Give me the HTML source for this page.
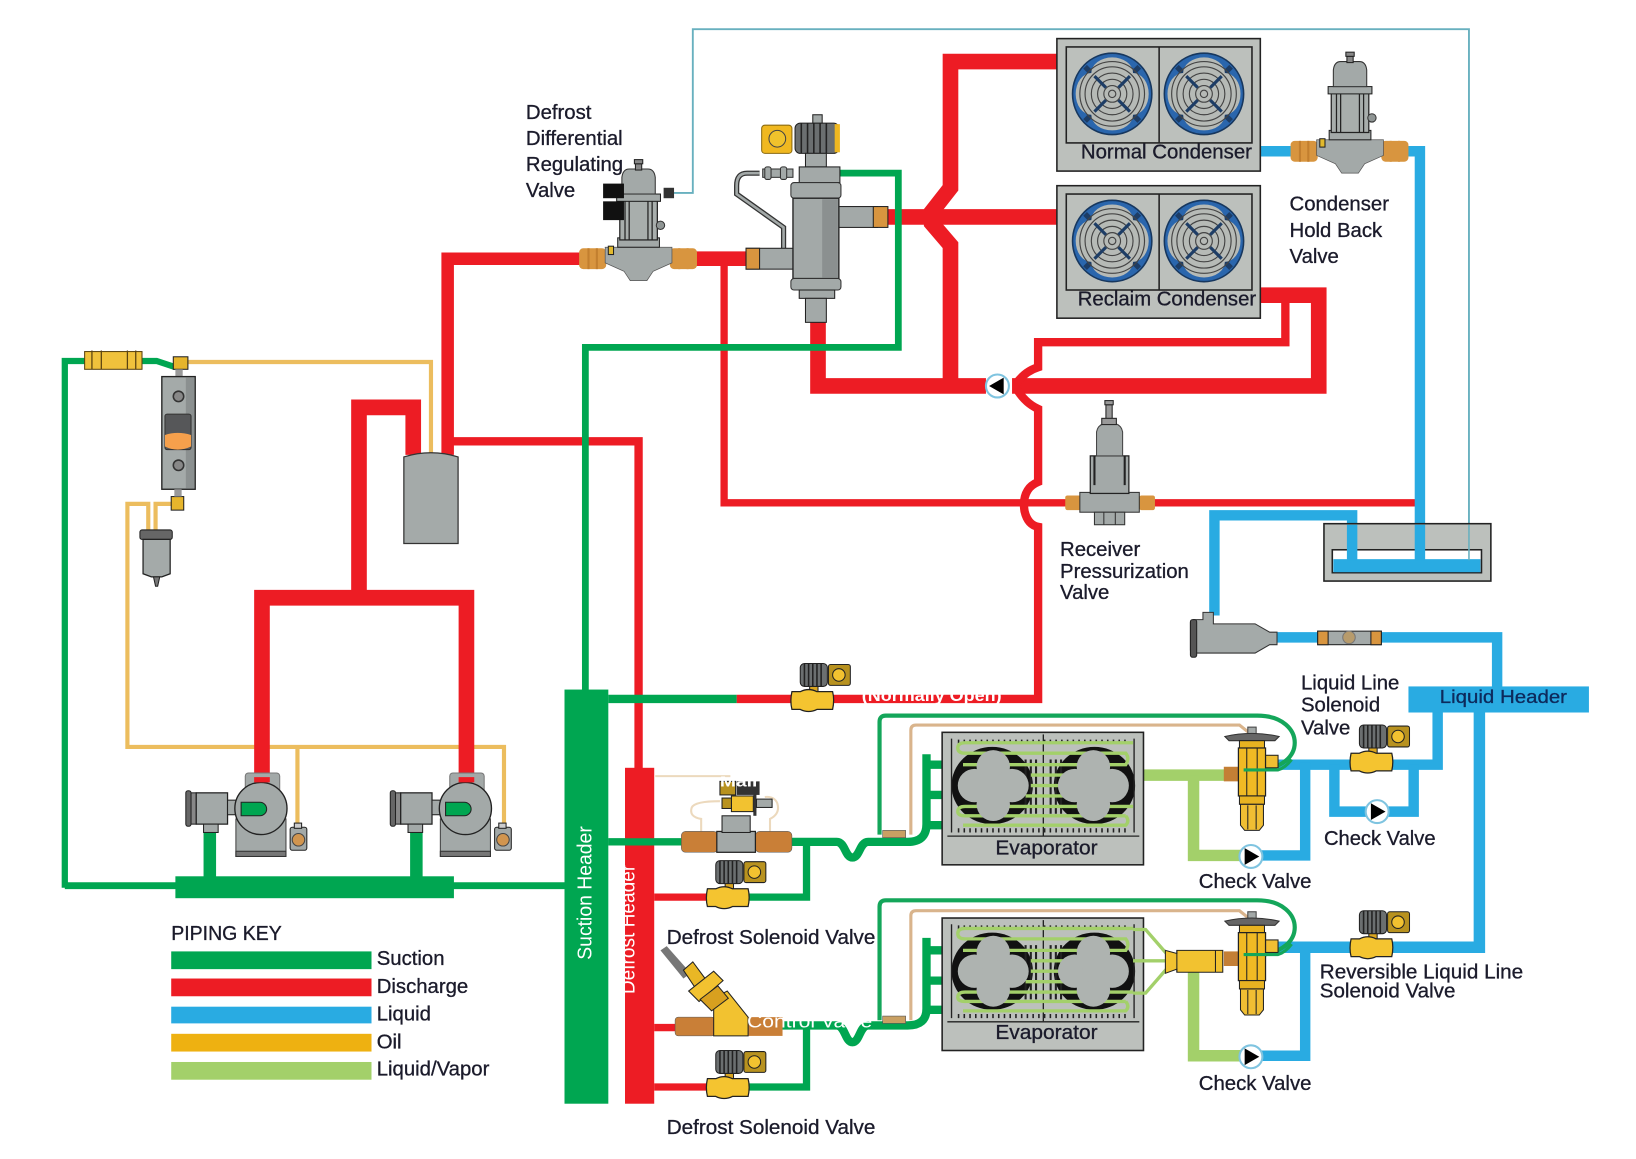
<!DOCTYPE html>
<html><head><meta charset="utf-8"><title>Refrigeration piping diagram</title>
<style>
html,body{margin:0;padding:0;background:#fff}
svg{display:block;filter:blur(.35px)}
text{font-family:"Liberation Sans",sans-serif;font-size:19.5px;fill:#1b1b2b;stroke:#1b1b2b;stroke-width:.3px}
.p{fill:none;stroke-linejoin:miter}
</style></head><body>
<svg xmlns="http://www.w3.org/2000/svg" width="1636" height="1159" viewBox="0 0 1568 1111">
<defs>
<g id="fan">
<ellipse rx="38" ry="39" fill="#2a66ad" stroke="#17375e" stroke-width="1.5"/>
<path d="M-26-26L26 26M26-26L-26 26" stroke="#1d3d66" stroke-width="5"/>
<ellipse cy="-20" rx="20" ry="15" fill="#b6bab6"/><ellipse cy="20" rx="20" ry="15" fill="#b6bab6"/>
<ellipse cx="-20" rx="15" ry="20" fill="#b6bab6"/><ellipse cx="20" rx="15" ry="20" fill="#b6bab6"/>
<circle r="13" fill="#b6bab6"/>
<g fill="none" stroke="#444" stroke-width="1.1"><circle r="3.500"/><circle r="8"/><circle r="14"/><circle r="20"/><circle r="26"/><circle r="31"/></g>
<path d="M-17-17L-6-6M17-17L6-6M-17 17L-6 6M17 17L6 6" stroke="#1d3d66" stroke-width="3"/>
</g>
<g id="cond">
<rect x="0" y="0" width="195" height="127" fill="#bcc0bc" stroke="#222" stroke-width="1.5"/>
<rect x="9" y="8" width="178" height="92" fill="#bcc0bc" stroke="#222" stroke-width="1.5"/>
<line x1="98" y1="8" x2="98" y2="100" stroke="#222" stroke-width="1.5"/>
<use href="#fan" x="53" y="53"/><use href="#fan" x="141" y="53"/>
</g>
<g id="sol">
<rect x="-3" y="-16" width="8" height="8" fill="#d9a520" stroke="#222"/>
<rect x="-12" y="-35" width="26" height="22" rx="4" fill="#6b6f70" stroke="#222"/>
<path d="M-8-35v22M-4-35v22M0-35v22M4-35v22M8-35v22" stroke="#222" stroke-width="1.5"/>
<rect x="15" y="-34" width="21" height="20" rx="2" fill="#b8921f" stroke="#222"/>
<circle cx="25" cy="-24" r="6" fill="#f2c230" stroke="#222"/>
<path d="M-20-8h8q8-4 16 0h15q2 8 0 17h-15q-8 4-16 0h-8q-2-8 0-17z" fill="#f4c430" stroke="#222" stroke-width="1.2"/>
</g>
<g id="chk"><circle r="11" fill="#fff" stroke="#7fc4e0" stroke-width="2"/><path d="M-6-8L8 0L-6 8z" fill="#000"/></g>
<g id="pv">
<rect x="-57" y="-10" width="26" height="20" rx="4" fill="#d8953f"/>
<path d="M-48-10v20M-40-10v20M39-10v20M47-10v20" stroke="#c27f2f" stroke-width="2"/>
<rect x="30" y="-10" width="26" height="20" rx="4" fill="#d8953f"/>
<path d="M-32-11H32V4L14 12L8 21H-8L-14 12L-32 4z" fill="#a3a9a8" stroke="#555" stroke-width=".7"/>
<rect x="-20" y="-20" width="40" height="9" fill="#a3a9a8" stroke="#222"/>
<rect x="-18" y="-56" width="36" height="38" fill="#a8aeac" stroke="#222" stroke-width="1.2"/>
<path d="M-13-56v38M-9-56v38M9-56v38M13-56v38" stroke="#222" stroke-width="1.2"/>
<rect x="-21" y="-62" width="42" height="7" fill="#a3a9a8" stroke="#222"/>
<path d="M-16-62V-78Q-15-86-9-86H9Q15-86 16-78V-62z" fill="#a3a9a8" stroke="#333"/>
<rect x="-3" y="-91" width="6" height="6" fill="#888" stroke="#222"/>
<rect x="-4" y="-95" width="8" height="4" fill="#888" stroke="#222"/>
<rect x="-29" y="-12" width="5" height="8" fill="#e2b92d" stroke="#222"/>
<circle cx="21" cy="-32" r="4" fill="#8f9594" stroke="#333"/>
</g>
<g id="txv">
<rect x="-4" y="-34" width="8" height="10" fill="#a3a9a8" stroke="#444"/>
<path d="M-26-25Q0-31 26-25L22-21H-22z" fill="#666" stroke="#333"/>
<rect x="-12" y="-21" width="24" height="8" fill="#e8b321" stroke="#222"/>
<rect x="-27" y="4" width="15" height="14" fill="#c47f35"/>
<rect x="12" y="-7" width="13" height="12" fill="#f0be33" stroke="#222"/>
<rect x="-13" y="-14" width="26" height="46" fill="#f0ba24" stroke="#222" stroke-width="1.2"/>
<path d="M-5-14v46M5-14v46" stroke="#222"/>
<rect x="-12" y="32" width="24" height="8" fill="#e8b321" stroke="#222"/>
<path d="M-11 40H11V60L7 65H-7L-11 60z" fill="#f0be33" stroke="#222"/>
<path d="M-4 41v23M4 41v23" stroke="#222"/>
</g>
<g id="comp">
<rect x="-72" y="-17" width="5" height="34" rx="2" fill="#666" stroke="#222"/>
<rect x="-67" y="-15" width="5" height="30" fill="#888" stroke="#222"/>
<rect x="-62" y="-15" width="30" height="30" fill="#a3a9a8" stroke="#222" stroke-width="1.2"/>
<rect x="-32" y="-8" width="10" height="14" fill="#a3a9a8" stroke="#222"/>
<rect x="-15" y="-34" width="33" height="20" rx="3" fill="#a3a9a8" stroke="#777"/>
<rect x="-24" y="10" width="48" height="36" fill="#a3a9a8" stroke="#444"/>
<rect x="-24" y="41" width="48" height="5" fill="#777" stroke="#333"/>
<circle r="25" fill="#a3a9a8" stroke="#222" stroke-width="1.3"/>
<path d="M-19-6H-1a6 6 0 0 1 0 13H-19z" fill="#00a651" stroke="#222"/>
<rect x="-55" y="15" width="14" height="8" fill="#a3a9a8" stroke="#222"/>
<rect x="28" y="18" width="16" height="22" rx="2" fill="#a3a9a8" stroke="#222"/>
<circle cx="36" cy="30" r="6" fill="#d1954f" stroke="#444"/>
<rect x="32" y="14" width="7" height="5" fill="#ccc" stroke="#222"/>
</g>
<g id="evap">
<rect x="0" y="0" width="193" height="127" fill="#bcc0bc" stroke="#222" stroke-width="1.5"/>
<ellipse cx="48" cy="51" rx="39" ry="37" fill="#111"/>
<ellipse cx="146" cy="51" rx="39" ry="37" fill="#111"/>
<path d="M9 6V96M184 6V96" stroke="#222" stroke-width="1.3"/>
<line x1="5" y1="99.500" x2="189" y2="99.500" stroke="#222" stroke-width="1.3"/>
<line x1="97" y1="2" x2="97" y2="99" stroke="#222" stroke-width="1.3"/>
<path d="M15 9H178M15 94H178" stroke="#222" stroke-width="4" stroke-dasharray="1.500 4"/>
<path d="M80 26V78M85 26V78M90 26V78M104 26V78M109 26V78M114 26V78" stroke="#222" stroke-width="2"/>
<g fill="none" stroke="#a3d06a" stroke-width="3.200">
<path d="M183 10H22Q15 10 15 15Q15 20 22 20H176Q180 25 176 31H20"/>
<path d="M85 51H120M85 41H120M80 61H120"/>
<path d="M183 71H22Q15 71 15 76Q15 80 22 80H176"/>
<path d="M176 80Q180 85 176 89H20"/>
</g>
<g fill="#aeb3b0">
<circle cx="49" cy="33" r="16"/><circle cx="49" cy="69" r="16"/><circle cx="31" cy="51" r="16"/><circle cx="67" cy="51" r="16"/><circle cx="49" cy="51" r="11"/>
<circle cx="145" cy="33" r="16"/><circle cx="145" cy="69" r="16"/><circle cx="127" cy="51" r="16"/><circle cx="163" cy="51" r="16"/><circle cx="145" cy="51" r="11"/>
</g>
</g>
</defs>

<!-- teal sense line -->
<path class="p" d="M645 185H664V28H1408V538" stroke="#68b0bf" stroke-width="1.800"/>

<!-- oil -->
<g class="p" stroke="#ecbd5e" stroke-width="4">
<path d="M178 347H413V435"/>
<path d="M142 510V483H122V716H483V790"/>
<path d="M285 716V790"/>
<path d="M149 510V483H172"/>
</g>

<!-- discharge thick -->
<g class="p" stroke="#ed1c24">
<path stroke-width="15" d="M251 748V573H447V748"/>
<path stroke-width="15" d="M344 573V390.500H396V436"/>
<path stroke-width="12" d="M429 436V248H565"/>
<path stroke-width="14" d="M660 248H720"/>
<path stroke-width="8" d="M433 423H612V740"/>
<path stroke-width="7" d="M694 248V482H1022"/>
<path stroke-width="7" d="M1104 482H1360"/>
<path stroke-width="15" d="M784 305V370H945"/>
<path stroke-width="15" d="M1013 59H911V180L893 203V214L911 235V370"/>
<path stroke-width="15" d="M850 208H1013"/>
<path stroke-width="15" d="M970 370H1264V283H1205"/>
<path stroke-width="8" d="M706 670H995V505Q985 503 982 490Q980 478 985 470Q988 465 995 462V392Q982 386 974 372"/>
<path stroke-width="8" d="M974 368Q982 356 995 352V328H1232V288"/>
</g>
<text x="826" y="672" textLength="134" lengthAdjust="spacingAndGlyphs" style="fill:#fff;stroke:none;font-weight:bold;font-size:16px">(Normally Open)</text>

<!-- blue -->
<g class="p" stroke="#29abe2" stroke-width="10">
<path d="M1205 145H1240M1340 145H1361V540"/>
<path d="M1164 590V494H1296V537"/>
<path d="M1215 611H1435V660"/>
<path d="M1378 683V733H1225"/>
<path d="M1251 731V820H1208"/>
<path d="M1279 733V778H1355V733"/>
<path stroke-width="11" d="M1418 683V908H1225"/>
<path d="M1251 908V1012H1208"/>
</g>

<!-- liquid/vapor -->
<g class="p" stroke="#a3d06a" stroke-width="11">
<path d="M1095 743H1175"/><path d="M1144 743V820H1190"/>
<path d="M1144 925V1012H1190"/>
</g>

<!-- receiver -->
<rect x="1269" y="502" width="160" height="55" fill="#bcc0bc" stroke="#222" stroke-width="1.500"/>
<rect x="1277" y="527" width="143" height="22" fill="#fff" stroke="#222" stroke-width="1.500"/>
<rect x="1278" y="536" width="141" height="12.500" fill="#29abe2"/>
<path class="p" d="M1296 503V537M1361 503V537" stroke="#29abe2" stroke-width="10"/>
<line x1="1408" y1="503" x2="1408" y2="537" stroke="#68b0bf" stroke-width="1.500"/>

<!-- suction pipes -->
<g class="p" stroke="#00a651">
<path stroke-width="6.500" d="M561 665V333H861V166H805"/>
<path stroke-width="6" d="M62 851V346H150L168 352"/>
<path stroke-width="6.500" d="M62 849H170M430 849H545"/>
<path stroke-width="12" d="M201 795V842M399 795V842"/>
<path stroke-width="8" d="M583 670H706"/>
<path stroke-width="7" d="M583 807H660"/>
<path stroke-width="8" d="M755 807H802C810 807 810 822 817 822C824 822 824 807 832 807H870Q888 807 888 790V723M888 733H915M888 762H915M888 791H915"/>
<path stroke-width="8" d="M745 983H802C810 983 810 999 817 999C824 999 824 983 832 983H870Q888 983 888 967V899M888 911H915M888 940H915M888 968H915"/>
<path stroke-width="7" d="M715 860H773V807"/>
<path stroke-width="7" d="M715 1042H773V983"/>
</g>
<rect x="168" y="840" width="267" height="21" fill="#00a651"/>

<!-- thin loops -->
<g class="p">
<path d="M873 800V700Q873 695 878 695H1188L1198 703" stroke="#d9b48c" stroke-width="3"/>
<path d="M873 978V878Q873 873 878 873H1188L1198 881" stroke="#d9b48c" stroke-width="3"/>
<path d="M843 800V692Q843 686 849 686H1205C1230 686 1241 700 1241 712C1241 726 1228 735 1212 738H1190" stroke="#14a65a" stroke-width="4"/>
<path d="M843 978V869Q843 863 849 863H1205C1230 863 1241 877 1241 889C1241 903 1228 912 1212 915H1190" stroke="#14a65a" stroke-width="4"/>
</g>
<rect x="846" y="796" width="22" height="7" fill="#c9a063" stroke="#555" stroke-width=".6"/>
<rect x="846" y="974" width="22" height="7" fill="#c9a063" stroke="#555" stroke-width=".6"/>

<!-- headers -->
<rect x="541" y="661" width="42" height="397" fill="#00a651"/>
<rect x="599" y="736" width="28" height="322" fill="#ed1c24"/>
<clipPath id="dh"><rect x="599" y="736" width="28" height="322"/></clipPath>
<g clip-path="url(#dh)"><text transform="translate(608 953) rotate(-90)" style="fill:#fff;stroke:none" textLength="124" lengthAdjust="spacingAndGlyphs">Defrost Header</text></g>
<path class="p" d="M583 807H660" stroke="#00a651" stroke-width="7"/>
<path class="p" d="M627 860H682M627 1042H682M627 985H650" stroke="#ed1c24" stroke-width="7"/>
<text transform="translate(567 920) rotate(-90)" style="fill:#fff;stroke:none" textLength="128" lengthAdjust="spacingAndGlyphs">Suction Header</text>
<rect x="1350" y="658" width="173" height="25" fill="#29abe2"/>
<text x="1380" y="674" textLength="122" lengthAdjust="spacingAndGlyphs" style="fill:#0d2a5c;stroke:#0d2a5c;font-size:18px">Liquid Header</text>

<!-- condensers -->
<use href="#cond" x="1013" y="37"/>
<use href="#cond" x="1013" y="178"/>
<!-- evaporators -->
<use href="#evap" x="903" y="702"/>
<use href="#evap" x="903" y="880"/>
<g fill="none" stroke="#a3d06a" stroke-width="3.200"><path d="M1086 891H1098L1118 914M1086 921H1118M1086 952H1098L1118 929"/></g>

<!-- tank -->
<path d="M387 438Q413 430 439 438V521H387z" fill="#a4aaa9" stroke="#333" stroke-width="1.200"/>

<!-- sight glass + fittings -->
<rect x="81" y="337" width="55" height="17" fill="#f0c23c" stroke="#5a4310"/>
<path d="M88 336v18M97 336v18M122 336v18M130 336v18" stroke="#5a4310" stroke-width="1.200"/>
<rect x="166" y="342" width="14" height="12" fill="#e6b52c" stroke="#222"/>
<rect x="168" y="354" width="7" height="7" fill="#999"/>
<rect x="155" y="361" width="32" height="108" fill="#a4aaa9" stroke="#222" stroke-width="1.300"/>
<rect x="178" y="362" width="8" height="106" fill="#8b9090"/>
<rect x="158" y="397" width="25" height="34" rx="2" fill="#565759" stroke="#333"/>
<path d="M158 417Q170 413 183 417V428Q170 434 158 428z" fill="#f6a04c"/>
<circle cx="171" cy="380" r="5" fill="#888" stroke="#333" stroke-width="1.500"/>
<circle cx="171" cy="446" r="5" fill="#888" stroke="#333" stroke-width="1.500"/>
<rect x="164" y="476" width="12" height="13" fill="#e6b52c" stroke="#222"/>
<rect x="167" y="469" width="7" height="7" fill="#999"/>
<!-- oil filter -->
<rect x="134" y="508" width="31" height="9" rx="2" fill="#666" stroke="#222"/>
<path d="M137 517H163V550L155 553H145L137 550z" fill="#a4aaa9" stroke="#222" stroke-width="1.200"/>
<path d="M147 553h6l-2 9h-2z" fill="#777" stroke="#222"/>

<!-- compressors -->
<use href="#comp" x="250" y="775"/>
<use href="#comp" x="446" y="775"/>
<path class="p" d="M251 745V750M447 745V750" stroke="#ed1c24" stroke-width="15"/>

<!-- DDR valve -->
<use href="#pv" x="612" y="248"/>
<rect x="578" y="176" width="20" height="14" fill="#111"/><rect x="578" y="193" width="20" height="18" fill="#111"/>
<rect x="636" y="180" width="10" height="10" fill="#333"/>
<!-- Condenser hold back -->
<use href="#pv" x="1294" y="145"/>
<!-- Receiver pressurization -->
<g>
<rect x="1021" y="475" width="15" height="14" rx="2" fill="#d8953f"/><rect x="1092" y="475" width="15" height="14" rx="2" fill="#d8953f"/>
<rect x="1035" y="472" width="57" height="19" fill="#a3a9a8" stroke="#333"/>
<rect x="1049" y="491" width="29" height="12" fill="#a3a9a8" stroke="#333"/><path d="M1058 491v12M1069 491v12" stroke="#333"/>
<rect x="1045" y="437" width="37" height="36" fill="#a3a9a8" stroke="#222" stroke-width="1.200"/>
<path d="M1049 437v28M1078 437v28" stroke="#222" stroke-width="2"/>
<path d="M1051 437V414Q1052 408 1058 406H1069Q1075 408 1076 414V437z" fill="#a3a9a8" stroke="#444"/>
<rect x="1060" y="388" width="6" height="15" fill="#999" stroke="#222"/><rect x="1056" y="401" width="14" height="6" fill="#999" stroke="#222"/>
<rect x="1059" y="384" width="8" height="4" fill="#999" stroke="#222"/>
</g>

<!-- main valve -->
<path class="p" d="M728 166H716Q706 166 706 178V186L751 218V238" stroke="#333" stroke-width="5"/>
<path class="p" d="M728 166H716Q706 166 706 178V186L751 218V238" stroke="#a3a9a8" stroke-width="2.500"/>
<rect x="731" y="162" width="29" height="8" fill="#a3a9a8" stroke="#333"/>
<rect x="733" y="160" width="6" height="12" rx="2" fill="#a3a9a8" stroke="#333"/><rect x="748" y="160" width="6" height="12" rx="2" fill="#a3a9a8" stroke="#333"/>
<rect x="730" y="120" width="29" height="27" rx="3" fill="#f0b820" stroke="#8a6a10"/>
<circle cx="745" cy="133" r="8" fill="#f0c22c" stroke="#444"/>
<rect x="762" y="118" width="42" height="29" rx="5" fill="#6b6f70" stroke="#222"/>
<rect x="800" y="119" width="5" height="27" fill="#f0b820"/>
<path d="M768 118v29M774 118v29M780 118v29M786 118v29M792 118v29" stroke="#222" stroke-width="1.500"/>
<rect x="779" y="110" width="9" height="8" fill="#a3a9a8" stroke="#222"/>
<rect x="772" y="147" width="20" height="13" fill="#a3a9a8" stroke="#222"/>
<rect x="766" y="160" width="39" height="15" fill="#a3a9a8" stroke="#222"/>
<rect x="758" y="175" width="48" height="15" rx="3" fill="#a3a9a8" stroke="#333"/>
<rect x="803" y="198" width="38" height="20" fill="#a3a9a8" stroke="#222"/><rect x="837" y="198" width="14" height="20" fill="#d8953f" stroke="#222"/>
<rect x="715" y="238" width="46" height="20" fill="#a3a9a8" stroke="#222"/><rect x="715" y="238" width="13" height="20" fill="#d8953f" stroke="#222"/>
<rect x="760" y="190" width="44" height="77" fill="#a3a9a8" stroke="#222" stroke-width="1.300"/>
<rect x="788" y="191" width="15" height="75" fill="#8b9090"/>
<rect x="758" y="267" width="48" height="11" rx="3" fill="#a3a9a8" stroke="#333"/>
<rect x="766" y="278" width="34" height="8" fill="#a3a9a8" stroke="#222"/>
<rect x="772" y="286" width="20" height="23" fill="#a3a9a8" stroke="#222"/>

<!-- solenoids -->
<use href="#sol" x="779" y="671"/>
<use href="#sol" x="698" y="860"/>
<use href="#sol" x="698" y="1042"/>
<use href="#sol" x="1315" y="730"/>
<use href="#sol" x="1315" y="908"/>

<!-- suction stop valve -->
<path fill="none" stroke="#ecd9bd" stroke-width="2" d="M672 798V785Q660 783 663 774Q666 768 690 768M738 798V785Q748 780 745 770Q742 763 733 764M628 744H700"/>
<rect x="653" y="797" width="35" height="20" rx="4" fill="#c97f37" stroke="#555" stroke-width=".5"/>
<rect x="724" y="797" width="35" height="20" rx="4" fill="#c97f37" stroke="#555" stroke-width=".5"/>
<rect x="687" y="797" width="37" height="20" fill="#a3a9a8" stroke="#222" stroke-width="1.200"/>
<rect x="692" y="782" width="27" height="16" fill="#a3a9a8" stroke="#222"/>
<rect x="701" y="763" width="21" height="15" fill="#f2c230" stroke="#222"/>
<rect x="692" y="765" width="9" height="10" fill="#b8921f" stroke="#222"/>
<rect x="722" y="758" width="3" height="24" fill="#333"/>
<rect x="725" y="766" width="15" height="8" fill="#a3a9a8" stroke="#222"/>
<rect x="690" y="749" width="15" height="13" fill="#b8921f" stroke="#222"/>
<rect x="706" y="749" width="22" height="13" fill="#333"/>
<text x="690" y="754" style="fill:#fff;stroke:none;font-size:14px;font-weight:bold" textLength="42" lengthAdjust="spacingAndGlyphs">Main</text>

<!-- control valve -->
<rect x="647" y="975" width="38" height="18" rx="3" fill="#c97f37" stroke="#555" stroke-width=".5"/>
<rect x="714" y="975" width="36" height="18" fill="#c97f37"/>
<path d="M684 957L697 950L717 975V993H684z" fill="#f2c230" stroke="#222"/>
<path d="M633 911L639 907L662 933L655 938z" fill="#777"/>
<path d="M655 930L664 922L678 941L667 948z" fill="#e9b725" stroke="#222"/>
<path d="M660 950L684 931L693 940L670 960z" fill="#f2c230" stroke="#222"/>
<path d="M671 958L688 945L698 957L682 969z" fill="#d8a01f" stroke="#222"/>
<text x="716" y="985" textLength="120" lengthAdjust="spacingAndGlyphs" style="fill:#fff;stroke:none;font-size:18px">Control Valve</text>

<!-- TXVs and stubs -->
<use href="#txv" x="1200" y="731"/>
<use href="#txv" x="1200" y="908"/>
<path d="M1117 911L1128 914V911H1172V932H1128V929L1117 933z" fill="#f2c230" stroke="#222"/>
<path d="M1128 911v21M1165 911v21" stroke="#222"/>
<path class="p" d="M1192 738H1225Q1232 736 1238 728" stroke="#14a65a" stroke-width="3"/>
<path class="p" d="M1192 915H1225Q1232 913 1238 905" stroke="#14a65a" stroke-width="3"/>

<!-- inline liquid bits -->
<path d="M1141 597h3v-3h9v-7h10v11h40l14 8h7v12h-7l-14 8h-60v-3h-2z" fill="#a4aaa9" stroke="#333"/>
<rect x="1141" y="594" width="6" height="36" rx="2" fill="#555" stroke="#222"/>
<rect x="1263" y="605" width="61" height="13" fill="#a4aaa9" stroke="#222"/>
<rect x="1263" y="605" width="10" height="13" fill="#d8953f" stroke="#222"/><rect x="1314" y="605" width="10" height="13" fill="#d8953f" stroke="#222"/>
<circle cx="1293" cy="611" r="6" fill="#b79b6c" stroke="#777"/>

<!-- check valves -->
<use href="#chk" transform="translate(956 370) scale(-1 1)"/>
<use href="#chk" x="1320" y="778"/>
<use href="#chk" x="1199" y="821"/>
<use href="#chk" x="1199" y="1013"/>

<!-- labels -->
<text x="504" y="114">Defrost</text>
<text x="504" y="139">Differential</text>
<text x="504" y="164">Regulating</text>
<text x="504" y="189">Valve</text>
<text x="1036" y="152" textLength="164" lengthAdjust="spacingAndGlyphs">Normal Condenser</text>
<text x="1033" y="293" textLength="171" lengthAdjust="spacingAndGlyphs">Reclaim Condenser</text>
<text x="1236" y="202">Condenser</text>
<text x="1236" y="227">Hold Back</text>
<text x="1236" y="252">Valve</text>
<text x="1016" y="533">Receiver</text>
<text x="1016" y="554">Pressurization</text>
<text x="1016" y="574">Valve</text>
<text x="1247" y="661">Liquid Line</text>
<text x="1247" y="682">Solenoid</text>
<text x="1247" y="704">Valve</text>
<text x="1269" y="810" textLength="107" lengthAdjust="spacingAndGlyphs">Check Valve</text>
<text x="1149" y="851" textLength="108" lengthAdjust="spacingAndGlyphs">Check Valve</text>
<text x="1149" y="1045" textLength="108" lengthAdjust="spacingAndGlyphs">Check Valve</text>
<text x="1265" y="938" textLength="195" lengthAdjust="spacingAndGlyphs">Reversible Liquid Line</text>
<text x="1265" y="956" textLength="130" lengthAdjust="spacingAndGlyphs">Solenoid Valve</text>
<text x="639" y="905" textLength="200" lengthAdjust="spacingAndGlyphs">Defrost Solenoid Valve</text>
<text x="639" y="1087" textLength="200" lengthAdjust="spacingAndGlyphs">Defrost Solenoid Valve</text>
<text x="954" y="819" textLength="98" lengthAdjust="spacingAndGlyphs">Evaporator</text>
<text x="954" y="996" textLength="98" lengthAdjust="spacingAndGlyphs">Evaporator</text>

<!-- key -->
<text x="164" y="901" textLength="106" lengthAdjust="spacingAndGlyphs">PIPING KEY</text>
<rect x="164" y="912" width="192" height="17" fill="#00a651"/>
<rect x="164" y="938" width="192" height="17" fill="#ed1c24"/>
<rect x="164" y="965" width="192" height="16" fill="#29abe2"/>
<rect x="164" y="991" width="192" height="17" fill="#eeb111"/>
<rect x="164" y="1018" width="192" height="17" fill="#a3d06a"/>
<text x="361" y="925">Suction</text>
<text x="361" y="952">Discharge</text>
<text x="361" y="978">Liquid</text>
<text x="361" y="1005">Oil</text>
<text x="361" y="1031">Liquid/Vapor</text>
</svg>
</body></html>
